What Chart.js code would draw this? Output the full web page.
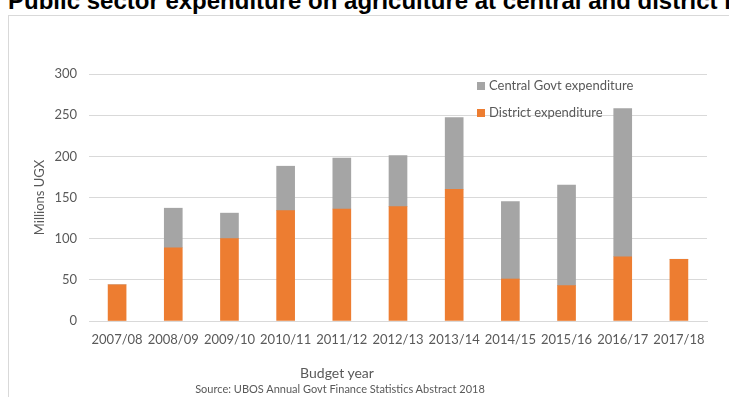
<!DOCTYPE html>
<html>
<head>
<meta charset="utf-8">
<script src="https://cdn.jsdelivr.net/npm/chart.js@4/dist/chart.umd.min.js"></script>
<style>
    body { margin: 0; background: #fff; overflow: hidden; }
    #wrap { position: relative; width: 729px; height: 397px; overflow: hidden; }
    #title {
        position: absolute; left: 8px; top: -11px; white-space: nowrap;
        font: bold 24px/24px "Liberation Sans", Arial, sans-serif; color: #000;
    }
    #box { position: absolute; left: 8px; top: 15px; width: 760px; height: 420px; border: 1px solid #d9d9d9; }
    #chart { position: absolute; left: 0; top: 0; }
    .note { position: absolute; color: #595959; font-family: Lato, sans-serif; white-space: nowrap; transform: translate(-50%, -50%); }
</style>
</head>
<body>
<div id="wrap">
    <div id="title">Public sector expenditure on agriculture at central and district level</div>
    <div id="box"></div>
    <canvas id="chart" width="729" height="397"></canvas>
    <div class="note" style="left:337px; top:372px; font-size:14px;">Budget year</div>
    <div class="note" style="left:340px; top:388px; font-size:11px;">Source: UBOS Annual Govt Finance Statistics Abstract 2018</div>
</div>
<script>
// Budget years and values (millions UGX)
const years = ["2007/08", "2008/09", "2009/10", "2010/11", "2011/12", "2012/13",
               "2013/14", "2014/15", "2015/16", "2016/17", "2017/18"];
const districtSpend = [44, 89, 100, 134, 136, 139, 160, 51, 43, 78, 75];
const centralSpend = [0, 48, 31, 54, 62, 62, 87, 94, 122, 180, 0];
const yTicks = [0, 50, 100, 150, 200, 250, 300];

const textGrey = "#595959";

// legend drawn inside the plot, Central on top like the original
const insideLegend = {
    id: "insideLegend",
    afterDraw(chart) {
        const ctx = chart.ctx;
        const sets = chart.data.datasets.slice().reverse();
        ctx.save();
        ctx.font = "13px Lato, sans-serif";
        ctx.textBaseline = "middle";
        sets.forEach(function (ds, i) {
            let y = 86 + i * 27;
            ctx.fillStyle = ds.backgroundColor;
            ctx.fillRect(477, y - 4, 8, 8);
            ctx.fillStyle = textGrey;
            ctx.fillText(ds.label, 489, y);
        });
        ctx.restore();
    }
};

new Chart(document.getElementById("chart"), {
    type: "bar",
    data: {
        labels: years,
        datasets: [{
            label: "District expenditure",
            data: districtSpend,
            backgroundColor: "#ED7D31",
            barThickness: 18
        }, {
            label: "Central Govt expenditure",
            data: centralSpend,
            backgroundColor: "#A5A5A5",
            barThickness: 18
        }]
    },
    options: {
        responsive: false,
        animation: false,
        layout: { padding: { top: 74, right: 22, left: 0, bottom: 0 } },
        plugins: {
            legend: { display: false },
            tooltip: { enabled: false }
        },
        scales: {
            x: {
                stacked: true,
                afterFit: function (scale) { scale.height = 76; },
                grid: { display: false, drawTicks: false },
                border: { color: "#d9d9d9" },
                ticks: {
                    padding: 11, color: textGrey, maxRotation: 0, autoSkip: false,
                    font: { family: "Lato", size: 13 }
                }
            },
            y: {
                stacked: true,
                min: 0, max: 300,
                afterFit: function (scale) { scale.width = 89; },
                afterBuildTicks: function (scale) {
                    scale.ticks = yTicks.map(function (v) { return { value: v }; });
                },
                grid: { color: "#d9d9d9", drawTicks: false },
                border: { display: false },
                ticks: {
                    padding: 12, color: textGrey,
                    font: { family: "Lato", size: 13 }
                },
                title: {
                    display: true, text: "Millions UGX", color: textGrey,
                    font: { family: "Lato", size: 13 },
                    padding: { top: 32, bottom: 0 }
                }
            }
        }
    },
    plugins: [insideLegend]
});
</script>
</body>
</html>
